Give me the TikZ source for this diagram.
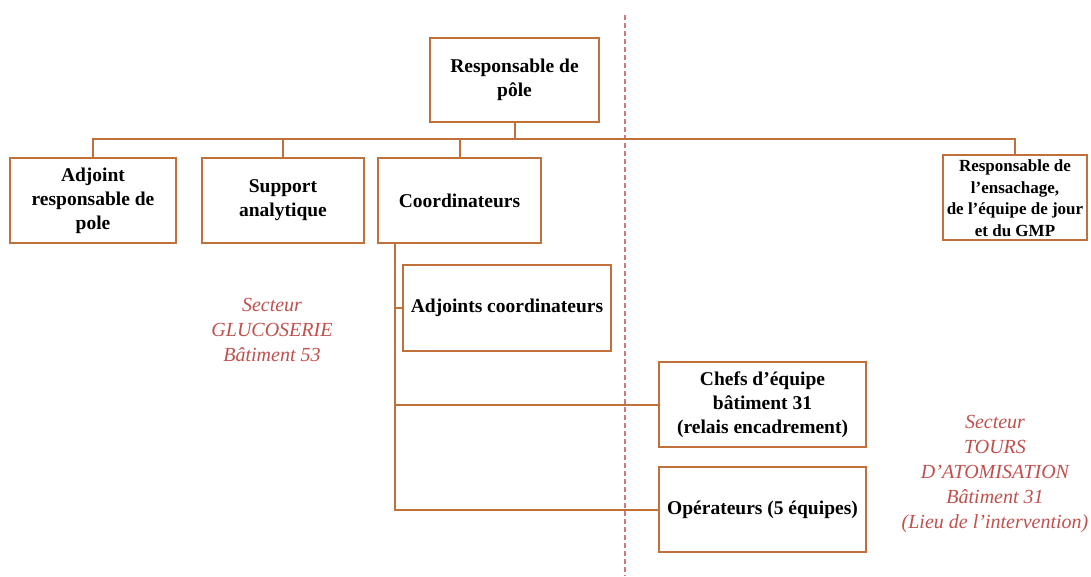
\documentclass[tikz,border=0pt]{standalone}
\usepackage{fontspec}
\setmainfont{Liberation Serif}
\definecolor{boxline}{HTML}{C0703A}
\definecolor{sector}{HTML}{C0504D}
\definecolor{divider}{HTML}{D07A7C}
\begin{document}
\begin{tikzpicture}[x=1pt,y=-1pt,
  orgbox/.style={draw=boxline,line width=2pt,fill=white,align=center,
    font=\fontsize{19.5}{24}\selectfont\bfseries,inner sep=2pt},
  smallbox/.style={orgbox,font=\fontsize{17}{21.5}\selectfont\bfseries,inner sep=1pt},
  link/.style={draw=boxline,line width=2pt},
  sectortext/.style={text=sector,align=center,font=\fontsize{20}{25}\selectfont\itshape}]
\useasboundingbox (0,0) rectangle (1091,577);

% dividing line between the two sectors
\coordinate (d1) at (625,15);
\coordinate (d2) at (625,576);
\draw[divider,line width=1.6pt,dash pattern=on 5pt off 3pt] (d1) -- (d2);

% boxes
\node[orgbox,minimum width=169pt,minimum height=84pt] (top) at (514.5,80) {Responsable de\\pôle};
\node[orgbox,minimum width=166pt,minimum height=85pt] (adj) at (93,200.5) {Adjoint\\responsable de\\pole};
\node[orgbox,minimum width=162pt,minimum height=85pt] (sup) at (283,200.5) {Support\\analytique};
\node[orgbox,minimum width=163pt,minimum height=85pt] (coord) at (459.5,200.5) {Coordinateurs};
\node[smallbox,minimum width=144pt,minimum height=85pt] (ens) at (1015,198) {Responsable de\\l’ensachage,\\de l’équipe de jour\\et du GMP};
\node[orgbox,minimum width=208pt,minimum height=86pt] (adjc) at (507,308) {Adjoints coordinateurs};
\node[orgbox,minimum width=207pt,minimum height=85pt] (chef) at (762.5,404.5) {Chefs d’équipe\\bâtiment 31\\(relais encadrement)};
\node[orgbox,minimum width=207pt,minimum height=85pt] (op) at (762.5,509.5) {Opérateurs (5 équipes)};

% top-level connectors
\coordinate (bus) at (514.5,139);
\draw[link] (top.south) -- (bus) -| (adj.north);
\draw[link] (bus) -| (sup.north);
\draw[link] (bus) -| (coord.north);
\draw[link] (bus) -| (ens.north);

% coordinators' trunk
\coordinate (trunk) at (395,243);
\draw[link] (trunk) |- (op.west);
\draw[link] (trunk |- adjc.west) -- (adjc.west);
\draw[link] (trunk |- chef.west) -- (chef.west);

% sector labels
\node[sectortext] (s1) at (272,330) {Secteur\\GLUCOSERIE\\Bâtiment 53};
\node[sectortext] (s2) at (995,474) {Secteur\\TOURS\\D’ATOMISATION\\Bâtiment 31\\(Lieu de l’intervention)};
\end{tikzpicture}
\end{document}
